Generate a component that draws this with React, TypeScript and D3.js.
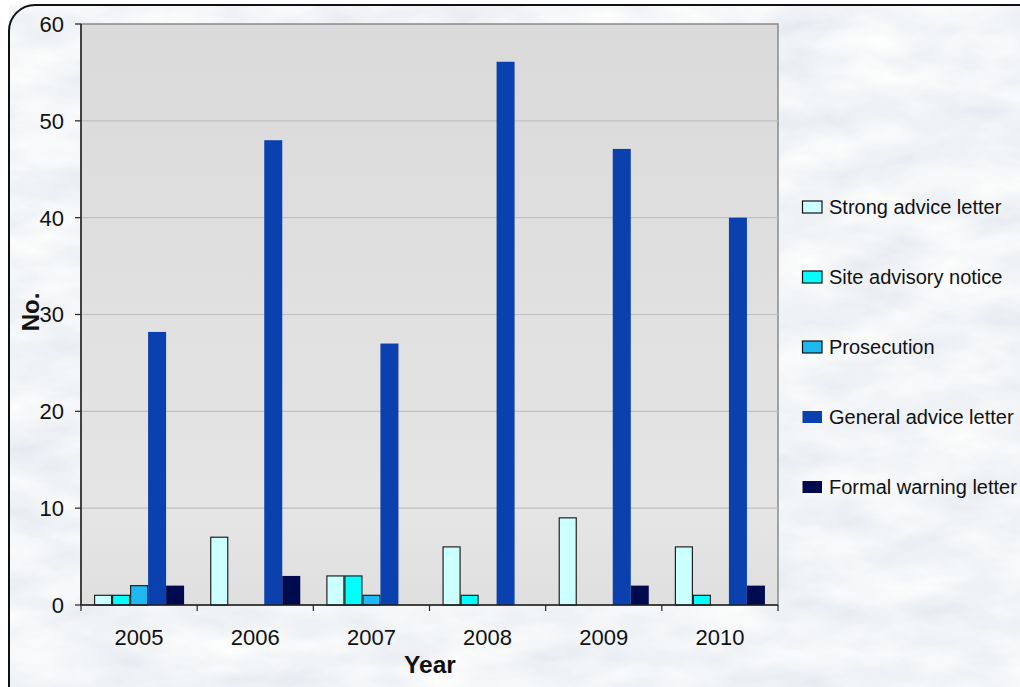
import React from "react";
import * as d3 from "d3";

const years = ["2005", "2006", "2007", "2008", "2009", "2010"];
const seriesNames = [
  "Strong advice letter",
  "Site advisory notice",
  "Prosecution",
  "General advice letter",
  "Formal warning letter",
];
const strongAdvice = [1, 7, 3, 6, 9, 6];
const siteAdvisory = [1, 0, 3, 1, 0, 1];
const prosecution = [2, 0, 1, 0, 0, 0];
const generalAdvice = [28.2, 48, 27, 56.1, 47.1, 40];
const formalWarning = [2, 3, 0, 0, 2, 2];
const yTicks = [0, 10, 20, 30, 40, 50, 60];

const seriesValues = [strongAdvice, siteAdvisory, prosecution, generalAdvice, formalWarning];
const colors = ["#ccffff", "#00ffff", "#1eb9f2", "#0a41ae", "#000a4e"];
const outlined = [true, true, true, false, false];

const W = 1020;
const H = 687;
const plot = { left: 81, right: 778, top: 24, bottom: 605 };

export default function App() {
  const x0 = d3
    .scaleBand<string>()
    .domain(years)
    .range([plot.left, plot.right])
    .paddingInner(0.225)
    .paddingOuter(0.1125);
  const x1 = d3
    .scaleBand<number>()
    .domain(d3.range(seriesNames.length))
    .range([0, x0.bandwidth()]);
  const y = d3.scaleLinear().domain([0, 60]).range([plot.bottom, plot.top]);
  const step = (plot.right - plot.left) / years.length;
  const font = "'Liberation Sans', Arial, sans-serif";

  return (
    <svg
      width={W}
      height={H}
      style={{ position: "absolute", left: 0, top: 0, display: "block" }}
      fontFamily={font}
    >
      <defs>
        <filter id="marble" x="0" y="0" width="100%" height="100%">
          <feTurbulence type="fractalNoise" baseFrequency="0.012 0.03" numOctaves={5} seed={7} />
          <feColorMatrix
            type="matrix"
            values="0.26 0 0 0 0.76  0.22 0 0 0 0.8  0.14 0 0 0 0.86  0 0 0 0 1"
          />
        </filter>
        <linearGradient id="plotbg" x1="0" y1="0" x2="0" y2="1">
          <stop offset="0" stopColor="#dadada" />
          <stop offset="0.85" stopColor="#e5e5e5" />
          <stop offset="1" stopColor="#dfdfdf" />
        </linearGradient>
      </defs>
      <rect x={0} y={0} width={W} height={H} fill="#ffffff" />
      <rect x={9} y={5} width={1040} height={720} rx={26} ry={26} filter="url(#marble)" />
      <rect x={9} y={5} width={1040} height={720} rx={26} ry={26} fill="none" stroke="#111" strokeWidth={2} />

      {/* plot area */}
      <rect
        x={plot.left}
        y={plot.top}
        width={plot.right - plot.left}
        height={plot.bottom - plot.top}
        fill="url(#plotbg)"
        stroke="#8a8a8a"
        strokeWidth={1.5}
      />
      {yTicks.map((t) => (
        <g key={t}>
          {t > 0 && t < 60 && (
            <line x1={plot.left} x2={plot.right} y1={y(t)} y2={y(t)} stroke="#c0c0c0" strokeWidth={1.2} />
          )}
          <line x1={plot.left - 6} x2={plot.left} y1={y(t)} y2={y(t)} stroke="#222" strokeWidth={1.2} />
          <text x={64} y={y(t)} dy="0.36em" textAnchor="end" fontSize={22} fill="#111">
            {t}
          </text>
        </g>
      ))}

      {/* bars */}
      {years.map((yr, i) => (
        <g key={yr} transform={`translate(${x0(yr)},0)`}>
          {seriesValues.map((vals, s) =>
            vals[i] > 0 ? (
              <rect
                key={s}
                x={x1(s)! + (outlined[s] ? 0.5 : 0)}
                y={y(vals[i])}
                width={x1.bandwidth() - (outlined[s] ? 1 : 0)}
                height={y(0) - y(vals[i])}
                fill={colors[s]}
                stroke={outlined[s] ? "#222" : "none"}
                strokeWidth={1.2}
              />
            ) : null
          )}
        </g>
      ))}

      {/* axes */}
      <line x1={plot.left} x2={plot.left} y1={plot.top} y2={plot.bottom} stroke="#222" strokeWidth={1.5} />
      <line x1={plot.left} x2={plot.right} y1={plot.bottom} y2={plot.bottom} stroke="#222" strokeWidth={1.5} />
      {d3.range(years.length + 1).map((k) => (
        <line
          key={k}
          x1={plot.left + k * step}
          x2={plot.left + k * step}
          y1={plot.bottom}
          y2={plot.bottom + 6}
          stroke="#222"
          strokeWidth={1.2}
        />
      ))}
      {years.map((yr) => (
        <text
          key={yr}
          x={x0(yr)! + x0.bandwidth() / 2}
          y={645}
          textAnchor="middle"
          fontSize={22}
          fill="#111"
        >
          {yr}
        </text>
      ))}
      <text x={430} y={673} textAnchor="middle" fontSize={24.5} fontWeight="bold" fill="#111">
        Year
      </text>
      <text
        transform="translate(39,312) rotate(-90)"
        textAnchor="middle"
        fontSize={24}
        fontWeight="bold"
        fill="#111"
      >
        No.
      </text>

      {/* legend */}
      {seriesNames.map((name, s) => {
        const cy = 207 + s * 70;
        return (
          <g key={name}>
            <rect
              x={802.5}
              y={cy - 6}
              width={19.5}
              height={12}
              fill={colors[s]}
              stroke={outlined[s] ? "#111" : "none"}
              strokeWidth={1.2}
            />
            <text x={829} y={cy} dy="0.35em" fontSize={20} fill="#111">
              {name}
            </text>
          </g>
        );
      })}
    </svg>
  );
}
